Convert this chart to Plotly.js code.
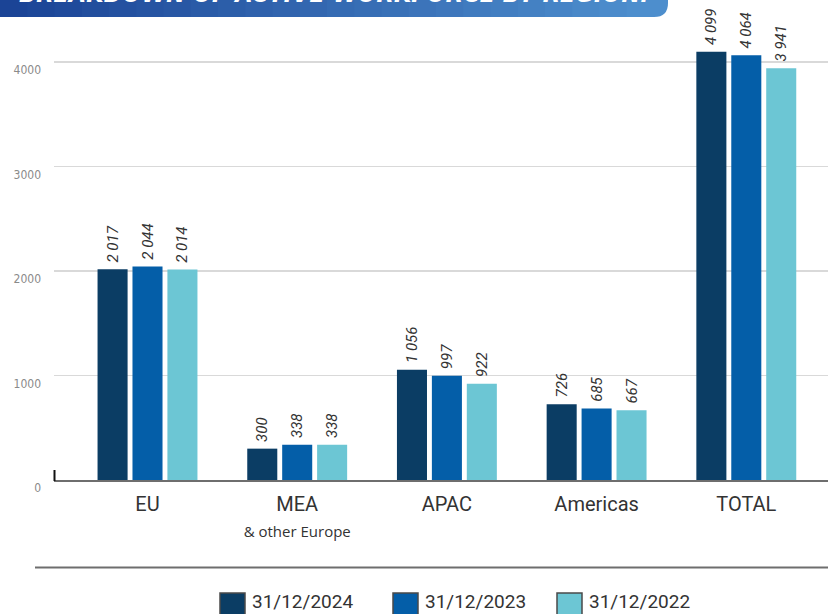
<!DOCTYPE html>
<html>
<head>
<meta charset="utf-8">
<script src="https://cdn.plot.ly/plotly-3.0.1.min.js"></script>
<style>
html,body{margin:0;padding:0;background:#fff;}
#chart{width:828px;height:614px;}
</style>
</head>
<body>
<div id="chart"></div>
<script>
// ---- data ----
const categories = ["EU", "MEA", "APAC", "Americas", "TOTAL"];
const tickLabels = ["EU", "MEA<br><span style=\"font-size:15px;font-family:'Open Sans'\">&amp; other Europe</span>", "APAC", "Americas", "TOTAL"];
const seriesNames = ["31/12/2024", "31/12/2023", "31/12/2022"];
const values2024 = [2017, 300, 1056, 726, 4099];
const values2023 = [2044, 338, 997, 685, 4064];
const values2022 = [2014, 338, 922, 667, 3941];
const yTicks = [0, 1000, 2000, 3000, 4000];
const titleText = "BREAKDOWN OF ACTIVE WORKFORCE BY REGION:";

// ---- styling ----
const colors = ["#0B3D64", "#045EA8", "#6CC6D4"];
const W = 828, H = 614;
const M = {l: 54, r: 0, t: 20, b: 134};
const PW = W - M.l - M.r, PH = H - M.t - M.b;
const px2x = p => (p - M.l) / PW;
const py2y = p => (H - M.b - p) / PH;

const allSeries = [values2024, values2023, values2022];
const traces = allSeries.map((vals, i) => ({
  type: "bar",
  name: seriesNames[i],
  x: categories,
  y: vals,
  marker: {color: colors[i], line: {width: 0}},
  texttemplate: "\u00a0%{y:,}",
  textposition: "outside",
  textangle: -90,
  constraintext: "none",
  cliponaxis: false,
  textfont: {family: "Roboto, 'DejaVu Sans'", style: "italic", size: 15, color: "#333333"},
  hoverinfo: "skip",
  showlegend: false
}));

const shapes = [];
const annotations = [];

// title banner with gradient strips
const c0 = [0x1B, 0x44, 0x96], c1 = [0x4D, 0x8E, 0xCD];
const nStrips = 24, bannerEnd = 668, rad = 14, bTop = -20, bBot = 17;
const stripEnd = bannerEnd - rad;
for (let i = 0; i < nStrips; i++) {
  const t = i / (nStrips - 1);
  const c = c0.map((v, k) => Math.round(v + (c1[k] - v) * t));
  const xa = stripEnd * i / nStrips, xb = stripEnd * (i + 1) / nStrips + 0.8;
  shapes.push({type: "rect", xref: "paper", yref: "paper", layer: "above",
    x0: px2x(xa), x1: px2x(Math.min(xb, stripEnd + 0.5)), y0: py2y(bBot), y1: py2y(bTop),
    fillcolor: `rgb(${c.join(",")})`, line: {width: 0}});
}
{
  const X = px2x, Y = py2y;
  const path = `M ${X(stripEnd)},${Y(bTop)} L ${X(bannerEnd)},${Y(bTop)} L ${X(bannerEnd)},${Y(bBot - rad)} Q ${X(bannerEnd)},${Y(bBot)} ${X(stripEnd)},${Y(bBot)} Z`;
  shapes.push({type: "path", xref: "paper", yref: "paper", layer: "above", path,
    fillcolor: `rgb(${c1.join(",")})`, line: {width: 0}});
}
annotations.push({text: "<b><i>" + titleText + "</i></b>", xref: "paper", yref: "paper",
  x: px2x(17), y: py2y(10), xanchor: "left", yanchor: "bottom", showarrow: false,
  font: {family: "'Liberation Sans Narrow', 'DejaVu Sans Condensed', 'Liberation Sans', sans-serif", size: 25, color: "#ffffff"}});

// small vertical mark at axis origin
shapes.push({type: "line", xref: "paper", yref: "paper", x0: px2x(54.5), x1: px2x(54.5), y0: py2y(481), y1: py2y(470),
  line: {color: "#111111", width: 2}});
// separator line above legend
shapes.push({type: "line", xref: "paper", yref: "paper", x0: px2x(35), x1: 1, y0: py2y(567.5), y1: py2y(567.5),
  line: {color: "#6e6e6e", width: 2}});

// legend (manual)
const legendBoxX = [220, 393, 557];
seriesNames.forEach((n, i) => {
  const x0 = legendBoxX[i];
  shapes.push({type: "rect", xref: "paper", yref: "paper", x0: px2x(x0), x1: px2x(x0 + 25), y0: py2y(622), y1: py2y(593),
    fillcolor: colors[i], line: {color: "#4a4a4a", width: 1.5}});
  annotations.push({text: n, xref: "paper", yref: "paper", x: px2x(x0 + 31), y: py2y(614), xanchor: "left", yanchor: "bottom",
    showarrow: false, borderpad: 0, font: {family: "Roboto, sans-serif", size: 19, color: "#333333"}});
});

const step = 149.7, firstCenter = 147.5;
const layout = {
  width: W, height: H,
  margin: M,
  paper_bgcolor: "#ffffff", plot_bgcolor: "#ffffff",
  separators: ". ",
  barmode: "group",
  bargap: 0.3,
  bargroupgap: 0.14,
  showlegend: false,
  xaxis: {
    type: "category",
    range: [(M.l - firstCenter) / step, (W - M.r - firstCenter) / step],
    tickvals: categories, ticktext: tickLabels,
    showline: true, linecolor: "#6e6e6e", linewidth: 2,
    ticks: "", showgrid: false, zeroline: false,
    tickfont: {family: "Roboto, 'Open Sans', sans-serif", size: 20, color: "#333333"},
    ticklabelstandoff: 5,
    fixedrange: true
  },
  yaxis: {
    range: [0, PH / 0.1045],
    tickvals: yTicks,
    showgrid: true, gridcolor: "#d9d9d9", gridwidth: 1.5,
    zeroline: false, showline: false, ticks: "",
    tickfont: {family: "'Liberation Sans Narrow', 'DejaVu Sans Condensed', sans-serif", size: 12, color: "#8a8a8a"},
    ticklabelshift: 8,
    ticklabelstandoff: 12,
    fixedrange: true
  },
  shapes, annotations,
  font: {family: "Roboto, sans-serif", color: "#333333"}
};

Plotly.newPlot("chart", traces, layout, {displayModeBar: false, staticPlot: true});
</script>
</body>
</html>
